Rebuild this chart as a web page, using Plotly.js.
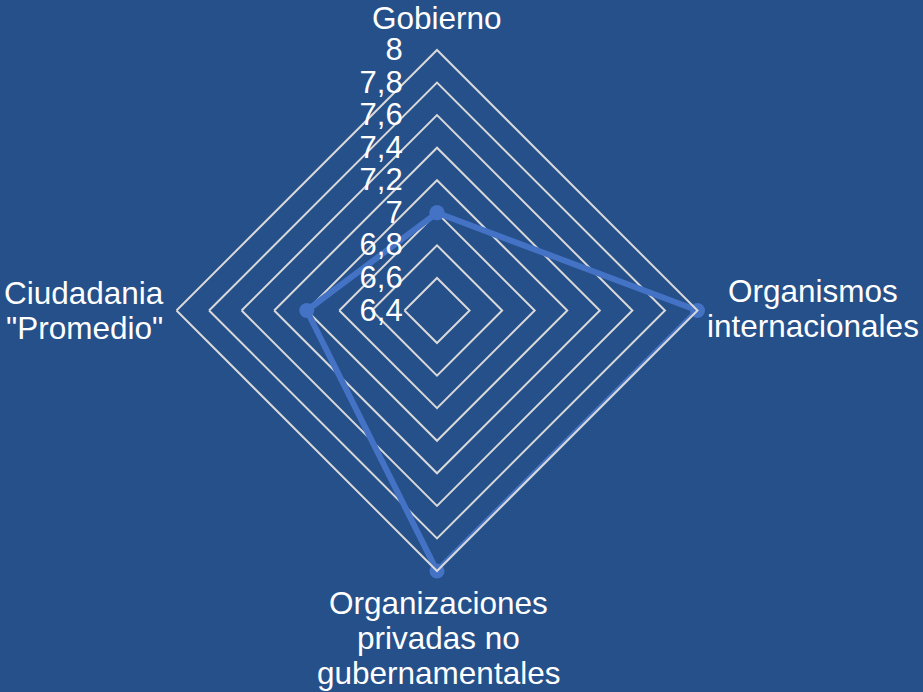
<!DOCTYPE html>
<html>
<head>
<meta charset="utf-8">
<script src="https://cdn.plot.ly/plotly-3.0.1.min.js"></script>
<style>html,body{margin:0;padding:0;background:#25508a;}#chart{width:923px;height:692px;}</style>
</head>
<body>
<div id="chart"></div>
<script>
// Data
const categories = ["Gobierno", "Organismos\ninternacionales", "Organizaciones\nprivadas no\ngubernamentales", "Ciudadania\n\"Promedio\""];
const values = [7.0, 8.0, 8.0, 7.2];
const radialTicks = [6.4, 6.6, 6.8, 7.0, 7.2, 7.4, 7.6, 7.8, 8.0];

const W = 923, H = 692;
const BG = "#25508a";
const FONT = "Liberation Sans, Arial, sans-serif";

// Label placement (pixel centre of first line, per category)
const labelPos = [
  {x: 436.7, y: 17.8},
  {x: 813, y: 291.2},
  {x: 438, y: 602.8},
  {x: 84, y: 292.8}
];
const lineGap = 35;

const annotations = [];
categories.forEach((c, i) => {
  c.split("\n").forEach((line, j) => {
    annotations.push({
      text: line, showarrow: false, xref: "paper", yref: "paper",
      x: labelPos[i].x / W, y: 1 - (labelPos[i].y + j * lineGap) / H,
      xanchor: "center", yanchor: "middle",
      font: {family: FONT, size: 31.5, color: "#ffffff"}
    });
  });
});

const theta = categories.concat([categories[0]]);
const r = values.concat([values[0]]);

const trace = {
  type: "scatterpolar",
  r: r, theta: theta,
  mode: "lines+markers",
  line: {color: "#4472C4", width: 6},
  marker: {color: "#4472C4", size: 15},
  hoverinfo: "skip",
  cliponaxis: false
};

const layout = {
  width: W, height: H,
  margin: {l: 0, r: 0, t: 0, b: 0},
  paper_bgcolor: BG,
  plot_bgcolor: BG,
  separators: ", ",
  showlegend: false,
  font: {family: FONT, color: "#ffffff"},
  annotations: annotations,
  polar: {
    domain: {x: [176.5 / W, 697.5 / W], y: [1 - 571 / H, 1 - 50 / H]},
    bgcolor: BG,
    gridshape: "linear",
    radialaxis: {
      range: [6.4, 8],
      tickvals: radialTicks,
      angle: 90,
      side: "counterclockwise",
      tickangle: 90,
      showline: false,
      showgrid: true,
      gridcolor: "#d9d9d9",
      gridwidth: 2,
      ticks: "outside",
      ticklen: 23,
      tickcolor: "rgba(0,0,0,0)",
      tickfont: {family: FONT, size: 31, color: "#ffffff"}
    },
    angularaxis: {
      type: "category",
      categoryarray: categories,
      direction: "clockwise",
      rotation: 90,
      showticklabels: false,
      ticks: "",
      showgrid: false,
      showline: true,
      linecolor: "#d9d9d9",
      linewidth: 2
    }
  }
};

Plotly.newPlot("chart", [trace], layout, {displayModeBar: false, staticPlot: true});
</script>
</body>
</html>
